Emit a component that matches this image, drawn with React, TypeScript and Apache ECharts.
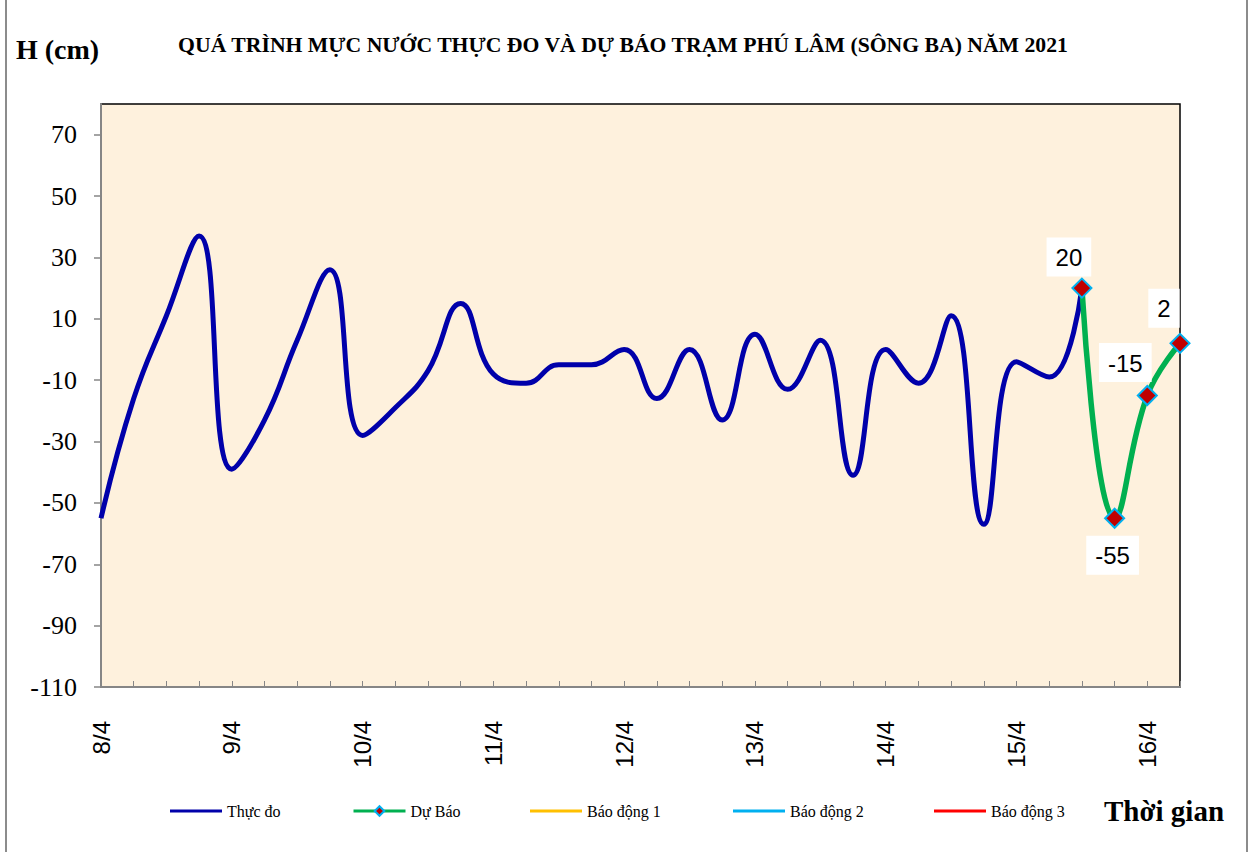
import React, { useEffect, useRef } from "react";
import * as echarts from "echarts";

// ---- data ----
const days = ["8/4", "9/4", "10/4", "11/4", "12/4", "13/4", "14/4", "15/4", "16/4"];
const hours = ["1h", "7h", "13h", "19h"];
const categories = days.flatMap((d) => hours.map((h) => `${h} ${d}`)).slice(0, 34);

const observed = [
  -55, -16, 11, 37, -39, -23, 3, 26, -28, -19, -7, 15, -8, -11, -5, -5,
  0, -16, 0, -23, 5, -13, 3, -41, 0, -11, 11, -57, -4, -9, 20,
];
const forecastStartIndex = 30;
const forecast = [20, -55, -15, 2];

const yTicks = [-110, -90, -70, -50, -30, -10, 10, 30, 50, 70];
const seriesNames = ["Thực đo", "Dự Báo", "Báo động 1", "Báo động 2", "Báo động 3"];

const titleText = "QUÁ TRÌNH MỰC NƯỚC THỰC ĐO VÀ DỰ BÁO TRẠM PHÚ LÂM (SÔNG BA) NĂM 2021";
const yName = "H (cm)";
const xName = "Thời gian";

export default function App() {
  const ref = useRef<HTMLDivElement>(null);

  useEffect(() => {
    document.body.style.margin = "0";
    if (!ref.current) return;
    const chart = echarts.init(ref.current, undefined, { renderer: "svg" });

    const serif = "'Liberation Serif', 'Times New Roman', serif";
    const sans = "'Liberation Sans', Arial, sans-serif";

    const observedData = categories.map((_, i) => (i < observed.length ? observed[i] : null));
    const labelPlacement = [
      { position: "top", distance: 1, offset: [-13, 0] },
      { position: "bottom", distance: 7, offset: [-2, 0] },
      { position: "top", distance: 3, offset: [-22, 0] },
      { position: "top", distance: 5, offset: [-16, 0] },
    ];
    const forecastData = categories.map((_, i) => {
      const k = i - forecastStartIndex;
      if (k < 0 || k >= forecast.length) return null;
      return {
        value: forecast[k],
        label: {
          show: true,
          ...labelPlacement[k],
          formatter: "{c}",
          fontFamily: sans,
          fontSize: 24,
          color: "#000",
          backgroundColor: "#ffffff",
          padding: [8, 9, 7, 9],
        },
      };
    });

    const legendLeft = [170, 352, 530, 733, 934];
    const lineColors = ["#0000AA", "#00B050", "#FFC000", "#00B0F0", "#FF0000"];

    chart.setOption({
      animation: false,
      backgroundColor: "#ffffff",
      grid: {
        left: 101,
        right: 71,
        top: 104,
        bottom: 165,
        show: true,
        backgroundColor: "#FEF1DD",
        borderColor: "#000000",
        borderWidth: 1.5,
        containLabel: false,
      },
      legend: seriesNames.map((name, i) =>
        i === 1
          ? {
              data: [name],
              left: legendLeft[i],
              top: 803,
              padding: 0,
              itemWidth: 52,
              itemHeight: 12,
              itemGap: 0,
              textStyle: { fontFamily: serif, fontSize: 16, color: "#000" },
              lineStyle: { width: 3 },
              selectedMode: false,
            }
          : {
              data: [{ name, icon: "rect" }],
              left: legendLeft[i],
              top: 803,
              padding: 0,
              itemWidth: 52,
              itemHeight: 3,
              itemGap: 0,
              textStyle: { fontFamily: serif, fontSize: 16, color: "#000" },
              selectedMode: false,
            }
      ),
      xAxis: {
        type: "category",
        data: categories,
        boundaryGap: false,
        axisLine: { show: true, onZero: false, lineStyle: { color: "#868686", width: 2 } },
        axisTick: {
          show: true,
          inside: true,
          length: 6,
          interval: 0,
          lineStyle: { color: "#868686", width: 1 },
        },
        axisLabel: {
          interval: 3,
          rotate: 90,
          margin: 34,
          fontFamily: sans,
          fontSize: 24,
          color: "#000",
          formatter: (v: string) => v.split(" ")[1],
        },
        splitLine: { show: false },
      },
      yAxis: {
        type: "value",
        min: -110,
        max: 80,
        axisLine: { show: true, lineStyle: { color: "#868686", width: 2 } },
        axisTick: {
          show: true,
          length: 7,
          customValues: yTicks,
          lineStyle: { color: "#868686", width: 1.5 },
        },
        axisLabel: {
          customValues: yTicks,
          margin: 24,
          fontFamily: serif,
          fontSize: 26,
          color: "#000",
        },
        splitLine: { show: false },
      },
      series: [
        {
          name: seriesNames[0],
          type: "line",
          data: observedData,
          smooth: 0.45,
          symbol: "none",
          lineStyle: { color: lineColors[0], width: 5 },
          itemStyle: { color: lineColors[0] },
          z: 2,
        },
        {
          name: seriesNames[1],
          type: "line",
          data: forecastData,
          smooth: 0.45,
          symbol: "diamond",
          symbolSize: 19,
          showSymbol: true,
          lineStyle: { color: lineColors[1], width: 5.5 },
          itemStyle: { color: "#C00000", borderColor: "#00B0F0", borderWidth: 2 },
          z: 3,
        },
        {
          name: seriesNames[2],
          type: "line",
          data: [],
          symbol: "none",
          lineStyle: { color: lineColors[2], width: 3 },
          itemStyle: { color: lineColors[2] },
        },
        {
          name: seriesNames[3],
          type: "line",
          data: [],
          symbol: "none",
          lineStyle: { color: lineColors[3], width: 3 },
          itemStyle: { color: lineColors[3] },
        },
        {
          name: seriesNames[4],
          type: "line",
          data: [],
          symbol: "none",
          lineStyle: { color: lineColors[4], width: 3 },
          itemStyle: { color: lineColors[4] },
        },
      ],
      graphic: [
        {
          type: "rect",
          shape: { x: 6, y: -3, width: 1241, height: 858 },
          style: { fill: "none", stroke: "#8C8C8C", lineWidth: 2 },
          silent: true,
        },
        {
          type: "text",
          x: 16,
          y: 49,
          style: {
            text: yName,
            font: `bold 28px ${serif}`,
            fill: "#000",
            verticalAlign: "middle",
            align: "left",
          },
        },
        {
          type: "text",
          x: 623,
          y: 45,
          style: {
            text: titleText,
            font: `bold 21.7px ${serif}`,
            fill: "#000",
            verticalAlign: "middle",
            align: "center",
          },
        },
        {
          type: "text",
          x: 1104,
          y: 811,
          style: {
            text: xName,
            font: `bold 29px ${serif}`,
            fill: "#000",
            verticalAlign: "middle",
            align: "left",
          },
        },
      ],
    });

    return () => chart.dispose();
  }, []);

  return <div ref={ref} style={{ width: 1251, height: 852 }} />;
}
